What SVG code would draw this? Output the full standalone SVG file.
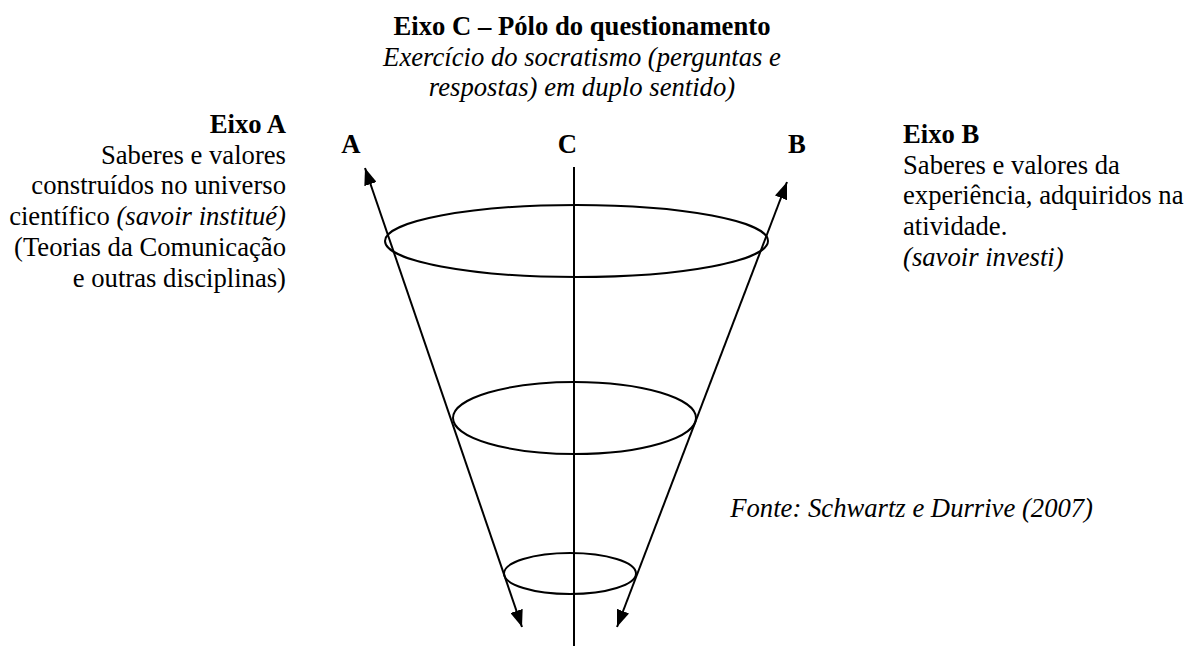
<svg xmlns="http://www.w3.org/2000/svg" width="1188" height="646" viewBox="0 0 1188 646">
<defs>
<style>
.t{font-family:"Liberation Serif","Times New Roman",serif;font-size:26.67px;fill:#000}
.b{font-weight:bold}
.i{font-style:italic}
.ln{stroke:#000;stroke-width:2;fill:none}
</style>
<marker id="arr" viewBox="0 0 17 13" refX="17" refY="6.5" markerWidth="17" markerHeight="13" markerUnits="userSpaceOnUse" orient="auto-start-reverse">
<path d="M0,0 L17,6.5 L0,13 z" fill="#000"/>
</marker>
</defs>
<rect width="1188" height="646" fill="#fff"/>
<g id="eixoC-title">
<text class="t b" x="582" y="35" text-anchor="middle">Eixo C – Pólo do questionamento</text>
<text class="t i" x="582" y="65.5" text-anchor="middle">Exercício do socratismo (perguntas e</text>
<text class="t i" x="582" y="95.5" text-anchor="middle">respostas) em duplo sentido)</text>
</g>
<g id="labels">
<text class="t b" x="351" y="153" text-anchor="middle">A</text>
<text class="t b" x="567.5" y="153" text-anchor="middle">C</text>
<text class="t b" x="797" y="153" text-anchor="middle">B</text>
</g>
<g id="eixoA">
<text class="t b" x="286" y="133" text-anchor="end">Eixo A</text>
<text class="t" x="286" y="163.7" text-anchor="end">Saberes e valores</text>
<text class="t" x="286" y="194.4" text-anchor="end">construídos no universo</text>
<text class="t" x="286" y="225.1" text-anchor="end">científico <tspan class="i">(savoir institué)</tspan></text>
<text class="t" x="286" y="255.8" text-anchor="end">(Teorias da Comunicação</text>
<text class="t" x="286" y="286.5" text-anchor="end">e outras disciplinas)</text>
</g>
<g id="eixoB">
<text class="t b" x="903" y="143">Eixo B</text>
<text class="t" x="903" y="173.7">Saberes e valores da</text>
<text class="t" x="903" y="204.4">experiência, adquiridos na</text>
<text class="t" x="903" y="235.1">atividade.</text>
<text class="t i" x="903" y="265.8">(savoir investi)</text>
</g>
<g id="fonte">
<text class="t i" x="1093" y="517" text-anchor="end">Fonte: Schwartz e Durrive (2007)</text>
</g>
<g id="cone">
<ellipse class="ln" cx="576.5" cy="241" rx="191.5" ry="36"/>
<ellipse class="ln" cx="574.5" cy="418" rx="121.5" ry="36"/>
<ellipse class="ln" cx="570" cy="573.5" rx="66" ry="20.5"/>
</g>
<g id="connectors">
<line class="ln" x1="574" y1="167" x2="574" y2="646"/>
<line class="ln" x1="365" y1="168" x2="522" y2="627" marker-start="url(#arr)" marker-end="url(#arr)"/>
<line class="ln" x1="787" y1="182" x2="617" y2="627" marker-start="url(#arr)" marker-end="url(#arr)"/>
</g>
</svg>
